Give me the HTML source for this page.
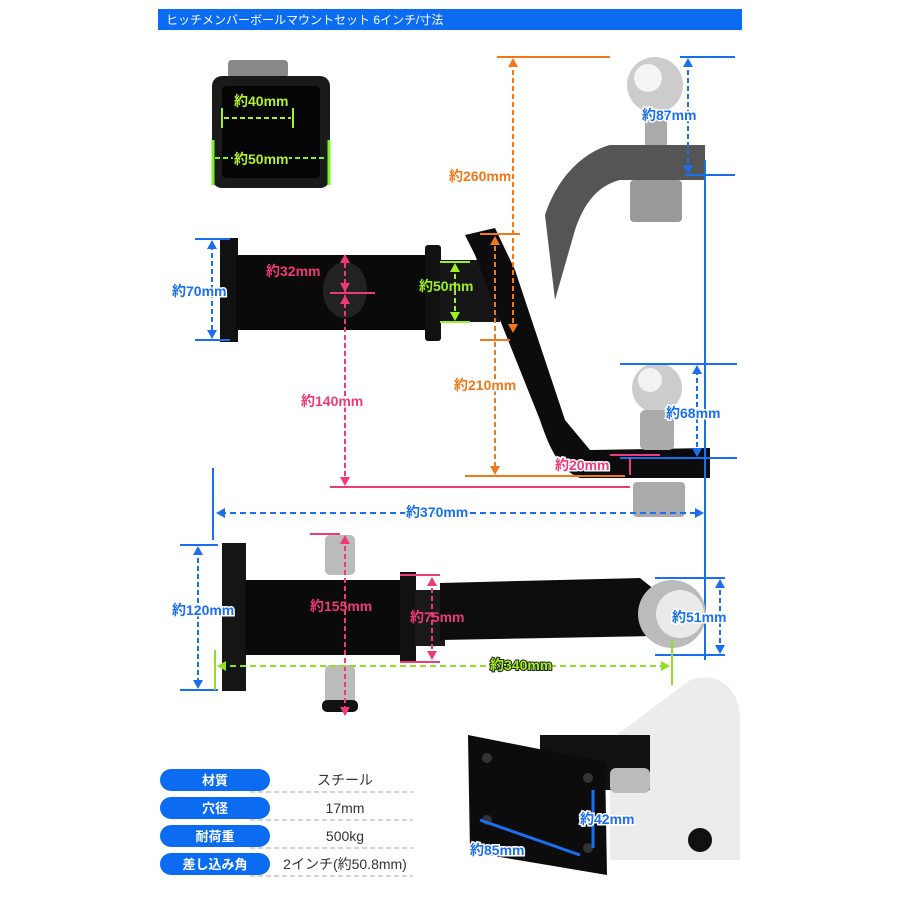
<!DOCTYPE html>
<html><head><meta charset="utf-8"><style>
html,body{margin:0;padding:0;background:#fff}
svg{display:block}
text{font-family:"Liberation Sans","Noto Sans CJK JP",sans-serif;font-weight:bold}
text.n{font-weight:normal}
</style></head><body>
<svg width="900" height="900" viewBox="0 0 900 900" xmlns="http://www.w3.org/2000/svg">
<rect width="900" height="900" fill="#fff"/>
<!-- header -->
<rect x="158" y="9" width="584" height="21" fill="#0b6cf2"/>
<text x="166" y="24" fill="#fff" font-size="12" class="n">ヒッチメンバーボールマウントセット 6インチ/寸法</text>

<!-- top-left square -->
<rect x="228" y="60" width="60" height="18" fill="#888" rx="4"/>
<rect x="212" y="76" width="118" height="112" rx="10" fill="#1a1a1a"/>
<rect x="222" y="86" width="98" height="92" rx="4" fill="#050505"/>
<line x1="213" y1="140" x2="213" y2="185" stroke="#7cf02a" stroke-width="3"/>
<line x1="329" y1="140" x2="329" y2="185" stroke="#7cf02a" stroke-width="3"/>
<line x1="222" y1="108" x2="222" y2="128" stroke="#a6f030" stroke-width="2"/>
<line x1="293" y1="108" x2="293" y2="128" stroke="#a6f030" stroke-width="2"/>
<line x1="224" y1="118" x2="291" y2="118" stroke="#a6f030" stroke-width="2" stroke-dasharray="5,3"/>
<line x1="215" y1="158" x2="327" y2="158" stroke="#7cf02a" stroke-width="2" stroke-dasharray="5,3"/>
<text x="234" y="106" fill="#b4f030" font-size="14">約40mm</text>
<text x="234" y="164" fill="#b4f030" font-size="14" stroke="#050505" stroke-width="3" paint-order="stroke">約50mm</text>

<!-- upper ball mount (side view) -->
<path d="M545 215 C560 170 590 150 610 145 L705 145 L705 180 L620 180 C600 185 585 200 575 230 L555 300 Z" fill="#555"/>
<circle cx="655" cy="85" r="28" fill="#ccc"/><circle cx="648" cy="78" r="14" fill="#f4f4f4"/>
<rect x="645" y="110" width="22" height="35" fill="#aaa"/>
<rect x="630" y="180" width="52" height="42" rx="4" fill="#999"/>
<!-- side hitch -->
<rect x="220" y="238" width="18" height="104" fill="#111"/>
<rect x="236" y="255" width="192" height="75" fill="#0a0a0a"/>
<ellipse cx="345" cy="290" rx="22" ry="28" fill="#222"/>
<rect x="425" y="245" width="16" height="96" rx="3" fill="#111"/>
<rect x="440" y="260" width="60" height="62" fill="#161616"/>
<path d="M465 235 L495 228 L515 270 L545 360 L565 420 L590 450 L710 448 L710 478 L580 478 C560 470 550 450 540 420 L500 320 L475 255 Z" fill="#0c0c0c"/>
<circle cx="657" cy="388" r="25" fill="#ccc"/><circle cx="650" cy="380" r="12" fill="#f2f2f2"/>
<rect x="640" y="410" width="34" height="40" rx="5" fill="#aaa"/>
<rect x="633" y="482" width="52" height="35" rx="4" fill="#aaa"/>

<!-- dims side view -->
<g stroke="#1a6ff0" stroke-width="2" fill="none">
<line x1="195" y1="239" x2="230" y2="239"/><line x1="195" y1="340" x2="230" y2="340"/>
<line x1="212" y1="245" x2="212" y2="335" stroke-dasharray="5,3"/>
<line x1="680" y1="57" x2="735" y2="57"/><line x1="685" y1="175" x2="735" y2="175"/>
<line x1="688" y1="62" x2="688" y2="170" stroke-dasharray="5,3"/>
<line x1="705" y1="160" x2="705" y2="660"/>
<line x1="620" y1="364" x2="737" y2="364"/><line x1="620" y1="458" x2="737" y2="458"/>
<line x1="697" y1="370" x2="697" y2="452" stroke-dasharray="5,3"/>
<line x1="213" y1="468" x2="213" y2="540"/>
<line x1="220" y1="513" x2="700" y2="513" stroke-dasharray="6,4"/>
</g>
<g fill="#1a6ff0">
<path d="M212 240 l-5 9 h10z M212 339 l-5 -9 h10z"/>
<path d="M688 58 l-5 9 h10z M688 174 l-5 -9 h10z"/>
<path d="M697 365 l-5 9 h10z M697 457 l-5 -9 h10z"/>
<path d="M216 513 l9 -5 v10z M704 513 l-9 -5 v10z"/>
</g>
<g stroke="#f07818" stroke-width="2" fill="none">
<line x1="497" y1="57" x2="610" y2="57"/>
<line x1="513" y1="62" x2="513" y2="330" stroke-dasharray="5,3"/>
<line x1="480" y1="234" x2="520" y2="234"/>
<line x1="480" y1="340" x2="510" y2="340"/>
<line x1="495" y1="238" x2="495" y2="470" stroke-dasharray="5,3"/>
<line x1="465" y1="476" x2="625" y2="476"/>
</g>
<g fill="#f07818">
<path d="M513 58 l-5 9 h10z M513 333 l-5 -9 h10z M495 236 l-5 9 h10z M495 475 l-5 -9 h10z"/>
</g>
<g stroke="#ee3a7a" stroke-width="2" fill="none">
<line x1="330" y1="293" x2="375" y2="293"/>
<line x1="330" y1="487" x2="630" y2="487"/>
<line x1="345" y1="255" x2="345" y2="480" stroke-dasharray="5,3"/>
<line x1="610" y1="455" x2="660" y2="455"/>
<line x1="630" y1="458" x2="630" y2="475"/>
</g>
<g fill="#ee3a7a"><path d="M345 254 l-5 9 h10z M345 292 l-5 -9 h10z M345 295 l-5 9 h10z M345 486 l-5 -9 h10z"/></g>
<g stroke="#9ef020" stroke-width="2" fill="none">
<line x1="440" y1="262" x2="470" y2="262"/><line x1="440" y1="322" x2="470" y2="322"/>
<line x1="455" y1="266" x2="455" y2="318" stroke-dasharray="5,3"/>
</g>
<g fill="#9ef020"><path d="M455 263 l-5 9 h10z M455 321 l-5 -9 h10z"/></g>

<!-- bottom (top view) -->
<rect x="222" y="543" width="24" height="148" fill="#151515"/>
<rect x="245" y="580" width="160" height="75" fill="#0a0a0a"/>
<rect x="400" y="572" width="16" height="90" fill="#111"/>
<rect x="415" y="590" width="30" height="56" fill="#1a1a1a"/>
<path d="M440 583 L640 578 L655 590 L655 636 L440 640 Z" fill="#0d0d0d"/>
<circle cx="672" cy="614" r="34" fill="#bbb"/><circle cx="680" cy="614" r="24" fill="#eaeaea"/>
<rect x="325" y="535" width="30" height="40" rx="5" fill="#bbb"/>
<rect x="325" y="665" width="30" height="45" rx="5" fill="#bbb"/>
<rect x="322" y="700" width="36" height="12" rx="5" fill="#111"/>
<g stroke="#1a6ff0" stroke-width="2" fill="none">
<line x1="180" y1="545" x2="218" y2="545"/><line x1="180" y1="690" x2="218" y2="690"/>
<line x1="198" y1="550" x2="198" y2="685" stroke-dasharray="5,3"/>
<line x1="655" y1="578" x2="725" y2="578"/><line x1="655" y1="655" x2="725" y2="655"/>
<line x1="720" y1="582" x2="720" y2="650" stroke-dasharray="5,3"/>
</g>
<g fill="#1a6ff0"><path d="M198 546 l-5 9 h10z M198 689 l-5 -9 h10z M720 579 l-5 9 h10z M720 654 l-5 -9 h10z"/></g>
<g stroke="#ee3a7a" stroke-width="2" fill="none">
<line x1="310" y1="534" x2="340" y2="534"/>
<line x1="345" y1="538" x2="345" y2="715" stroke-dasharray="5,3"/>
<line x1="400" y1="575" x2="440" y2="575"/><line x1="400" y1="662" x2="440" y2="662"/>
<line x1="432" y1="580" x2="432" y2="658" stroke-dasharray="5,3"/>
</g>
<g fill="#ee3a7a"><path d="M345 535 l-5 9 h10z M345 716 l-5 -9 h10z M432 577 l-5 9 h10z M432 660 l-5 -9 h10z"/></g>
<g stroke="#8ee020" stroke-width="2" fill="none">
<line x1="215" y1="650" x2="215" y2="690"/><line x1="672" y1="640" x2="672" y2="685"/>
<line x1="220" y1="666" x2="668" y2="666" stroke-dasharray="6,4"/>
</g>
<g fill="#8ee020"><path d="M217 666 l9 -5 v10z M670 666 l-9 -5 v10z"/></g>

<!-- labels -->
<g font-size="14">
<text x="172" y="296" fill="#1a6ff0" stroke="#fff" stroke-width="3" paint-order="stroke">約70mm</text>
<text x="642" y="120" fill="#1a6ff0" stroke="#fff" stroke-width="3" paint-order="stroke">約87mm</text>
<text x="666" y="418" fill="#1a6ff0" stroke="#fff" stroke-width="3" paint-order="stroke">約68mm</text>
<text x="406" y="517" fill="#1a6ff0" stroke="#fff" stroke-width="3" paint-order="stroke">約370mm</text>
<text x="449" y="181" fill="#f07818" stroke="#fff" stroke-width="3" paint-order="stroke">約260mm</text>
<text x="454" y="390" fill="#f07818" stroke="#fff" stroke-width="3" paint-order="stroke">約210mm</text>
<text x="266" y="276" fill="#ee3a7a">約32mm</text>
<text x="301" y="406" fill="#ee3a7a" stroke="#fff" stroke-width="3" paint-order="stroke">約140mm</text>
<text x="555" y="470" fill="#ee3a7a" stroke="#fff" stroke-width="3" paint-order="stroke">約20mm</text>
<text x="419" y="291" fill="#9ef020">約50mm</text>
<text x="172" y="615" fill="#1a6ff0" stroke="#fff" stroke-width="3" paint-order="stroke">約120mm</text>
<text x="672" y="622" fill="#1a6ff0" stroke="#fff" stroke-width="3" paint-order="stroke">約51mm</text>
<text x="310" y="611" fill="#ee3a7a">約155mm</text>
<text x="410" y="622" fill="#ee3a7a">約75mm</text>
<text x="490" y="670" fill="#9ef020" stroke="#222" stroke-width="2" paint-order="stroke">約340mm</text>
</g>

<!-- bottom-right photo -->
<path d="M690 680 C720 670 740 690 740 720 L740 860 L610 860 L610 740 Z" fill="#ececec"/>
<rect x="540" y="735" width="110" height="55" fill="#111"/>
<path d="M468 735 L605 762 L607 875 L470 852 Z" fill="#0c0c0c"/>
<circle cx="487" cy="758" r="5" fill="#333"/><circle cx="487" cy="820" r="5" fill="#333"/>
<circle cx="588" cy="778" r="5" fill="#333"/><circle cx="588" cy="848" r="5" fill="#333"/>
<rect x="610" y="768" width="40" height="25" rx="6" fill="#bbb"/>
<circle cx="700" cy="840" r="12" fill="#111"/>
<g stroke="#1a6ff0" stroke-width="3"><line x1="593" y1="790" x2="593" y2="848"/><line x1="480" y1="820" x2="580" y2="855"/></g>
<text x="580" y="824" font-size="14" fill="#1a6ff0" stroke="#fff" stroke-width="3" paint-order="stroke">約42mm</text>
<text x="470" y="855" font-size="14" fill="#1a6ff0" stroke="#fff" stroke-width="3" paint-order="stroke">約85mm</text>

<!-- table -->
<g fill="#0b6cf2">
<rect x="160" y="769" width="110" height="22" rx="11"/>
<rect x="160" y="797" width="110" height="22" rx="11"/>
<rect x="160" y="825" width="110" height="22" rx="11"/>
<rect x="160" y="853" width="110" height="22" rx="11"/>
</g>
<g fill="#fff" font-size="13" text-anchor="middle">
<text x="215" y="785">材質</text><text x="215" y="813">穴径</text><text x="215" y="841">耐荷重</text><text x="215" y="869">差し込み角</text>
</g>
<g fill="#333" font-size="14" text-anchor="middle">
<text class="n" x="345" y="785">スチール</text><text class="n" x="345" y="813">17mm</text><text class="n" x="345" y="841">500kg</text><text class="n" x="345" y="869">2インチ(約50.8mm)</text>
</g>
<g stroke="#aaa" stroke-width="1" stroke-dasharray="5,3">
<line x1="250" y1="792" x2="413" y2="792"/><line x1="250" y1="820" x2="413" y2="820"/>
<line x1="250" y1="848" x2="413" y2="848"/><line x1="250" y1="876" x2="413" y2="876"/>
</g>
</svg>
</body></html>
